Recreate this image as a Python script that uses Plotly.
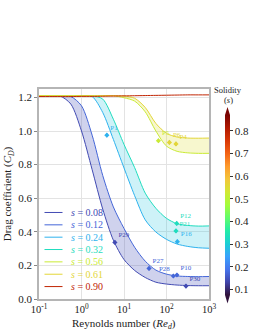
import plotly.graph_objects as go
from plotly.colors import sample_colorscale

# ---------------- data ----------------
reynolds = [0.1, 0.178, 0.316, 0.562, 1.0, 1.78, 3.16, 5.62, 10.0, 17.8, 31.6,
            56.2, 100.0, 178.0, 316.0, 562.0, 1000.0]

solidity = [0.08, 0.12, 0.24, 0.32, 0.56, 0.61, 0.90]

cd_s008 = [1.21, 1.21, 1.208, 1.16, 1.0, 0.77, 0.535, 0.35, 0.235, 0.17, 0.128,
           0.10, 0.089, 0.083, 0.080, 0.079, 0.079]
cd_s012 = [1.21, 1.21, 1.21, 1.205, 1.15, 0.975, 0.735, 0.548, 0.42, 0.308, 0.225,
           0.172, 0.148, 0.137, 0.134, 0.133, 0.134]
cd_s024 = [1.21, 1.21, 1.21, 1.21, 1.21, 1.205, 1.11, 0.95, 0.78, 0.615, 0.471,
           0.399, 0.355, 0.327, 0.313, 0.305, 0.302]
cd_s032 = [1.21, 1.21, 1.21, 1.21, 1.21, 1.21, 1.19, 1.07, 0.92, 0.782, 0.63,
           0.54, 0.48, 0.448, 0.438, 0.434, 0.435]
cd_s056 = [1.21, 1.21, 1.21, 1.21, 1.21, 1.21, 1.21, 1.21, 1.198, 1.178, 1.114,
           1.0, 0.91, 0.879, 0.870, 0.867, 0.867]
cd_s061 = [1.21, 1.21, 1.21, 1.21, 1.21, 1.21, 1.21, 1.21, 1.208, 1.195, 1.14,
           1.045, 0.986, 0.964, 0.958, 0.957, 0.958]
cd_s090 = [1.205, 1.205, 1.205, 1.205, 1.206, 1.206, 1.207, 1.208, 1.209, 1.21,
           1.211, 1.212, 1.213, 1.214, 1.215, 1.215, 1.215]

curves = [cd_s008, cd_s012, cd_s024, cd_s032, cd_s056, cd_s061, cd_s090]

pt_names = ["P1", "P29", "P27", "P28", "P10", "P30", "P12", "P21", "P16", "P5", "P6", "P4"]
pt_re = [3.95, 6.1, 38.8, 145.0, 176.0, 287.0, 174.0, 167.0, 180.0, 64.6, 117.0, 167.0]
pt_cd = [0.975, 0.337, 0.182, 0.137, 0.143, 0.077, 0.45, 0.405, 0.341, 0.942, 0.932, 0.923]
pt_s = [0.24, 0.08, 0.12, 0.12, 0.12, 0.08, 0.32, 0.32, 0.24, 0.56, 0.61, 0.61]
pt_pos = ["top right", "top right", "top right", "top left", "top right", "top right",
          "top right", "top right", "top right", "top right", "top right", "top right"]

x_tickvals = [0.1, 1, 10, 100, 1000]
x_ticktext = ["10<sup>-1</sup>", "10<sup>0</sup>", "10<sup>1</sup>", "10<sup>2</sup>", "10<sup>3</sup>"]
y_tickvals = [0.0, 0.2, 0.4, 0.6, 0.8, 1.0, 1.2]
cbar_ticks = [0.1, 0.2, 0.3, 0.4, 0.5, 0.6, 0.7, 0.8]
cbar_min, cbar_max = 0.075, 0.87

# ---------------- layout helpers ----------------
W, H = 255, 330
ML, MR, MT, MB = 39, 46, 89, 31
PW, PH = W - ML - MR, H - MT - MB
FONT = "Liberation Serif"


def px_x(px):
    return (px - ML) / PW


def px_y(py):
    return (H - MB - py) / PH


def col(s):
    return sample_colorscale("Turbo", [s])[0]


fill_cols = ["rgba(65,75,185,0.25)", "rgba(50,200,225,0.24)", "rgba(220,222,50,0.24)"]

fig = go.Figure()

pairs = [(0, 1), (2, 3), (4, 5)]
for k, (a, b) in enumerate(pairs):
    fig.add_trace(go.Scatter(x=reynolds, y=curves[a], mode="lines",
                             line=dict(color=col(solidity[a]), width=1, shape="spline", smoothing=0.8),
                             showlegend=False, hoverinfo="skip"))
    fig.add_trace(go.Scatter(x=reynolds, y=curves[b], mode="lines", fill="tonexty",
                             fillcolor=fill_cols[k],
                             line=dict(color=col(solidity[b]), width=1, shape="spline", smoothing=0.8),
                             showlegend=False, hoverinfo="skip"))
fig.add_trace(go.Scatter(x=reynolds, y=curves[6], mode="lines",
                         line=dict(color=col(solidity[6]), width=1, shape="spline", smoothing=0.8),
                         showlegend=False, hoverinfo="skip"))

pt_cols = [col(s) for s in pt_s]
fig.add_trace(go.Scatter(x=pt_re, y=pt_cd, mode="markers+text", text=pt_names,
                         textposition=pt_pos,
                         textfont=dict(family=FONT, size=7, color=pt_cols),
                         marker=dict(symbol="diamond", size=4, color=pt_cols),
                         error_y=dict(type="constant", value=0.012, thickness=1, width=0,
                                      color="rgba(70,90,200,0.8)"),
                         showlegend=False, hoverinfo="skip"))

fig.add_trace(go.Scatter(x=[1], y=[-1], mode="markers",
                         marker=dict(color=[cbar_min, cbar_max], colorscale="Turbo",
                                     cmin=cbar_min, cmax=cbar_max, size=1, showscale=True,
                                     colorbar=dict(x=px_x(225), xanchor="left", xpad=0,
                                                   y=px_y(205), yanchor="middle", ypad=0,
                                                   len=180, lenmode="pixels",
                                                   thickness=5, thicknessmode="pixels",
                                                   outlinewidth=0,
                                                   tickvals=cbar_ticks, ticks="outside",
                                                   ticklen=3, tickwidth=1, tickcolor="#333",
                                                   tickfont=dict(family=FONT, size=11, color="#222"))),
                         showlegend=False, hoverinfo="skip"))

shapes = []
shapes.append(dict(type="path", xref="paper", yref="paper",
                   path=f"M {px_x(225)},{px_y(115)} L {px_x(230)},{px_y(115)} L {px_x(227.5)},{px_y(107)} Z",
                   fillcolor=col(1.0), line=dict(width=0)))
shapes.append(dict(type="path", xref="paper", yref="paper",
                   path=f"M {px_x(225)},{px_y(295)} L {px_x(230)},{px_y(295)} L {px_x(227.5)},{px_y(303.5)} Z",
                   fillcolor=col(0.0), line=dict(width=0)))

annotations = []
leg_y0, leg_dy = 0.515, 0.0735
for i, s in enumerate(solidity):
    yv = leg_y0 - i * leg_dy
    shapes.append(dict(type="line", xref="paper", yref="y", x0=px_x(44.5), x1=px_x(62.5),
                       y0=yv, y1=yv, line=dict(color=col(s), width=1)))
    annotations.append(dict(xref="paper", yref="y", x=px_x(69), y=yv, xanchor="left",
                            yanchor="middle", showarrow=False,
                            text=f"<i>s</i> = {s:.2f}",
                            font=dict(family=FONT, size=10, color=col(s))))

annotations.append(dict(xref="paper", yref="paper", x=px_x(228), y=px_y(90), showarrow=False,
                        text="Solidity", font=dict(family=FONT, size=8.5, color="#222"),
                        xanchor="center", yanchor="middle"))
annotations.append(dict(xref="paper", yref="paper", x=px_x(228), y=px_y(99.5), showarrow=False,
                        text="(<i>s</i>)", font=dict(family=FONT, size=8.5, color="#222"),
                        xanchor="center", yanchor="middle"))
# x-axis title
annotations.append(dict(xref="paper", yref="paper", x=px_x(124), y=px_y(323.5), showarrow=False,
                        text="Reynolds number (<i>Re</i><sub><i>d</i></sub>)",
                        font=dict(family=FONT, size=11, color="#222"),
                        xanchor="center", yanchor="middle"))

fig.update_layout(
    width=W, height=H,
    margin=dict(l=ML, r=MR, t=MT, b=MB, pad=0, autoexpand=False),
    paper_bgcolor="white", plot_bgcolor="white",
    font=dict(family=FONT, size=11, color="#222"),
    showlegend=False,
    shapes=shapes, annotations=annotations,
)
fig.update_xaxes(type="log", range=[-1, 3], tickvals=x_tickvals, ticktext=x_ticktext,
                 showgrid=True, gridcolor="#e3e3e3", gridwidth=1,
                 showline=True, linecolor="#b5b5b5", linewidth=1.5, mirror=True,
                 ticks="", tickfont=dict(family=FONT, size=10.5),
                 zeroline=False, automargin=False)
fig.update_yaxes(range=[0, 1.25], tickvals=y_tickvals, ticktext=[f"{v:.1f}" for v in y_tickvals],
                 showgrid=True, gridcolor="#e3e3e3", gridwidth=1,
                 showline=True, linecolor="#b5b5b5", linewidth=1.5, mirror=True,
                 ticks="outside", ticklen=3, tickcolor="#888",
                 tickfont=dict(family=FONT, size=11),
                 title=dict(text="Drag coefficient (<i>C</i><sub><i>D</i></sub>)",
                            font=dict(family=FONT, size=11), standoff=4),
                 zeroline=False, automargin=False)

fig.write_html("out.html", config={"displayModeBar": False},
               post_script="document.body.style.margin='0px';document.body.style.overflow='hidden';")
